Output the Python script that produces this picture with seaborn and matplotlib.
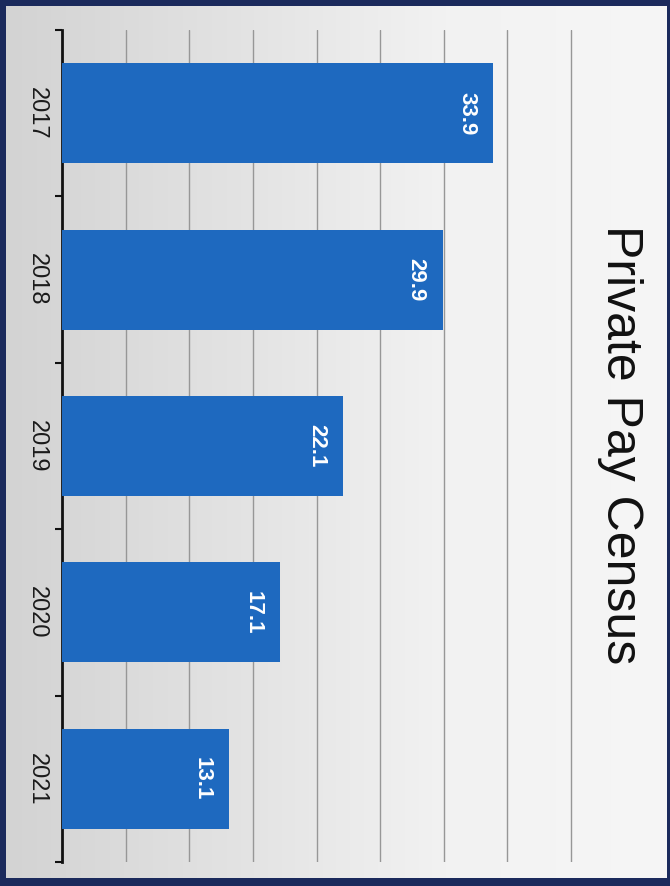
import numpy as np
import pandas as pd
import matplotlib
matplotlib.use('Agg')
import matplotlib.pyplot as plt
import seaborn as sns
from matplotlib.colors import LinearSegmentedColormap
from matplotlib.ticker import MultipleLocator, FixedLocator

years = ['2017', '2018', '2019', '2020', '2021']
census = [33.9, 29.9, 22.1, 17.1, 13.1]
title = 'Private Pay Census'

sns.set_theme(style='white')
plt.rcParams['font.family'] = ['Liberation Sans', 'DejaVu Sans']

fig = plt.figure(figsize=(6.7, 8.86), dpi=100)
fig.patch.set_facecolor('#1b2a5c')

# light background panel with gradient
bg = fig.add_axes([6/670, 8/886, (670-9)/670, (886-14)/886])
grad = np.linspace(0, 1, 256).reshape(1, -1)
cmap = LinearSegmentedColormap.from_list('bg', ['#d3d3d3', '#e2e2e2', '#f2f2f2', '#f6f6f6'])
bg.imshow(grad, aspect='auto', cmap=cmap, extent=[0, 1, 0, 1])
bg.axis('off')

ax = fig.add_axes([62/670, 24/886, (573-62)/670, (862-30)/886])
ax.patch.set_alpha(0)
df = pd.DataFrame({'year': years, 'census': census})
sns.barplot(data=df, x='census', y='year', orient='h', color='#1e69bf',
            width=0.6, saturation=1, ax=ax, zorder=3, linewidth=0, edgecolor='none')
ax.set_xlim(0, 40.15)
ax.set_ylim(4.5, -0.5)
ax.xaxis.set_major_locator(MultipleLocator(5))
ax.grid(axis='x', color='#979797', lw=1, zorder=0)
ax.set_axisbelow(True)
ax.tick_params(axis='x', length=0, labelbottom=False)
ax.set_xlabel('')
ax.set_ylabel('')
for s in ['top', 'right', 'bottom']:
    ax.spines[s].set_visible(False)
ax.spines['left'].set_color('#111111')
ax.spines['left'].set_linewidth(2)

ax.yaxis.set_minor_locator(FixedLocator([-0.5, 0.5, 1.5, 2.5, 3.5, 4.5]))
ax.tick_params(axis='y', which='major', length=0, pad=10)
ax.tick_params(axis='y', which='minor', length=5, width=1.5, color='#111111', left=True)
ax.set_yticks(range(len(years)))
ax.set_yticklabels(years, rotation=-90, fontsize=17, color='#1a1a1a', va='center')

for i, v in enumerate(census):
    ax.text(v - 2.1, i, f'{v:.1f}', rotation=-90, ha='center', va='center',
            color='white', fontsize=16, fontweight='bold', zorder=5)

fig.text(620/670, 1 - 445/886, title, rotation=-90, fontsize=36,
         ha='center', va='center', color='#111111')

fig.savefig('out.png', dpi=100, facecolor=fig.get_facecolor())
